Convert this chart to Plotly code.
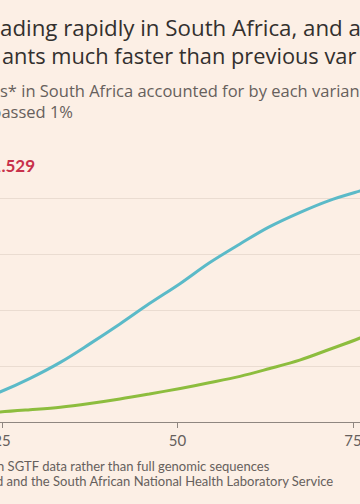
import plotly.graph_objects as go

# Days since each variant passed 1% of cases
days = [20, 24.7, 29, 33.3, 37.5, 41.8, 46, 50.4, 54.5, 58.9, 63, 67.4, 71.5, 76, 80]
# Share of cases (%) - B.1.1.529 (Omicron)
omicron = [6.3, 10.7, 15.6, 21.3, 27.9, 35.0, 42.3, 49.5, 56.8, 63.6, 69.6, 74.8, 79.0, 82.5, 85.3]
# Share of cases (%) - previous variant
previous = [3.0, 3.6, 4.4, 5.3, 6.6, 8.2, 10.0, 12.0, 14.0, 16.3, 19.0, 22.1, 25.8, 30.0, 34.5]

x_ticks = [25, 50, 75]
y_ticks = [0, 20, 40, 60, 80, 100]

BG = "#fcefe5"
W, H = 360, 504
TOP, BOTTOM = 142, 422

fig = go.Figure()
fig.add_trace(go.Scatter(x=days, y=previous, mode="lines",
                         line=dict(color="#8dbd3e", width=3, shape="spline", smoothing=1),
                         showlegend=False, hoverinfo="skip"))
fig.add_trace(go.Scatter(x=days, y=omicron, mode="lines",
                         line=dict(color="#5bbac8", width=3, shape="spline", smoothing=1),
                         showlegend=False, hoverinfo="skip"))


def text(t, x, y, size, color, pos="middle right", bold=False, family="Open Sans"):
    fig.add_trace(go.Scatter(x=[x], y=[y], mode="text", text=[f"<b>{t}</b>" if bold else t],
                             marker=dict(size=0), textposition=pos,
                             textfont=dict(family=family, size=size, color=color),
                             xaxis="x2", yaxis="y2", showlegend=False, hoverinfo="skip"))


text("ading rapidly in South Africa, and a", 0, 30, 22.3, "#33302e")
text("ants much faster than previous var", 2, 59, 21.8, "#33302e")
text("s* in South Africa accounted for by each varian", 0, 93, 16.5, "#66605c")
text("passed 1%", 73, 114, 16.5, "#66605c", pos="middle left")
text("B.1.1.529", 35, 168, 17, "#c8314b", pos="middle left", bold=True, family="Lato")
text("n SGTF data rather than full genomic sequences", -3, 468, 13, "#66605c", family="Lato")
text("d and the South African National Health Laboratory Service", -4, 483, 13, "#66605c", family="Lato")

fig.update_layout(
    width=W, height=H,
    margin=dict(l=0, r=0, t=0, b=0, pad=0, autoexpand=False),
    paper_bgcolor=BG, plot_bgcolor="rgba(0,0,0,0)",
    xaxis=dict(domain=[0, 1], anchor="y", automargin=False,
               range=[25 - 2 / 7.02, 25 + 358 / 7.02], tickvals=x_ticks, ticktext=[str(v) for v in x_ticks],
               showgrid=False, zeroline=False, showline=True, linecolor="#8f8680", linewidth=1,
               ticks="outside", ticklen=5, tickcolor="#8f8680", ticklabeloverflow="allow",
               tickfont=dict(family="Lato", size=15, color="#66605c")),
    yaxis=dict(domain=[(H - BOTTOM) / H, (H - TOP) / H], anchor="x", automargin=False,
               range=[0, 100], tickvals=y_ticks, showticklabels=False, showgrid=True,
               gridcolor="#eadcd1", gridwidth=1, zeroline=False, fixedrange=True),
    xaxis2=dict(domain=[0, 1], anchor="y2", range=[0, W], visible=False, fixedrange=True, automargin=False),
    yaxis2=dict(domain=[0, 1], anchor="x2", range=[H, 0], visible=False, fixedrange=True, automargin=False),
)

fig.write_html("out.html", config={"displayModeBar": False},
               post_script="document.body.style.margin='0';document.body.style.overflow='hidden';")
